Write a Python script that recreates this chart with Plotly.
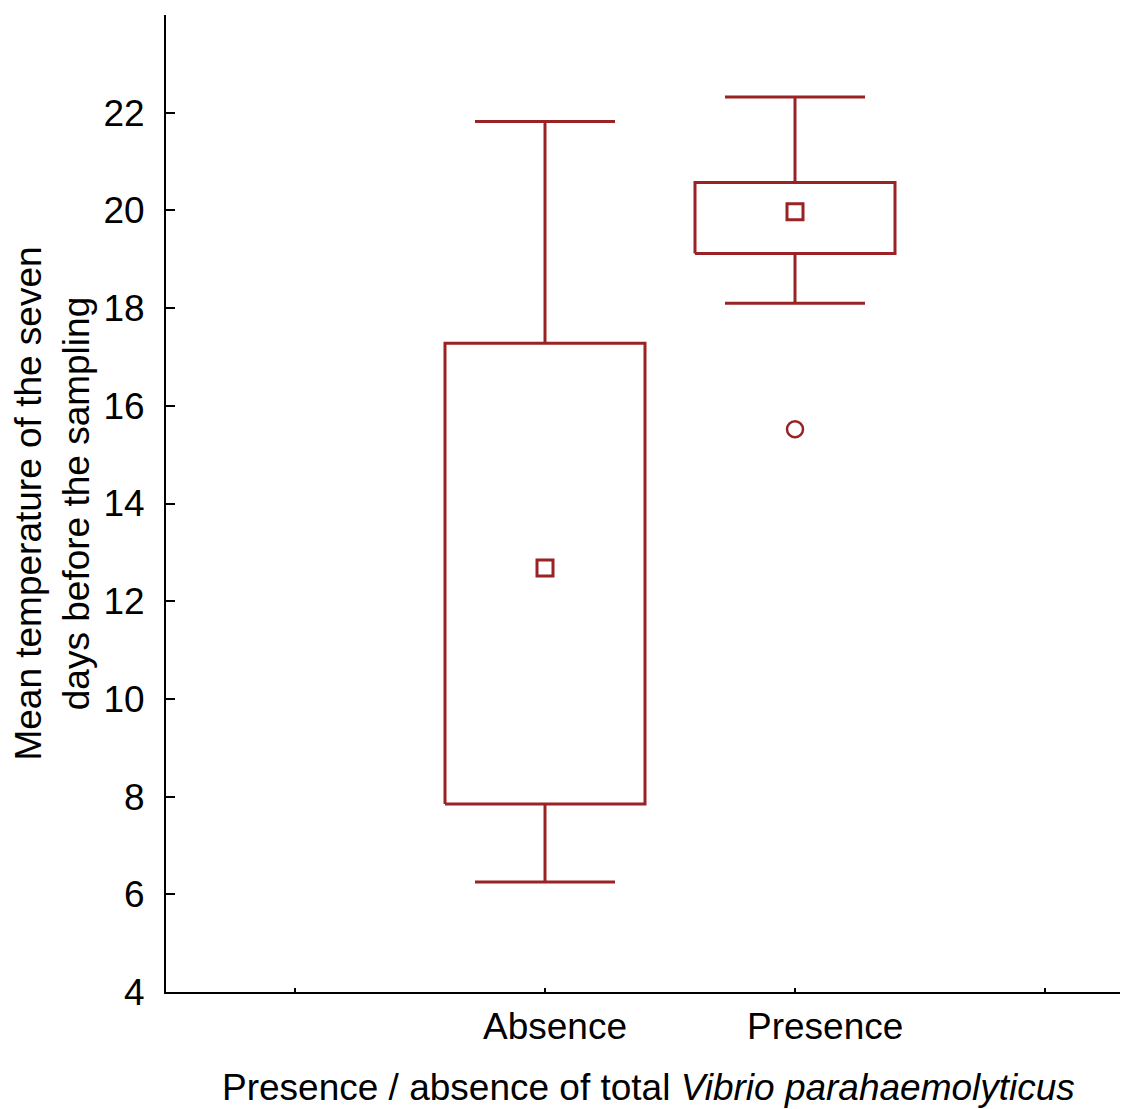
import plotly.graph_objects as go

categories = ["Absence", "Presence"]
positions = [1, 2]
whisker_low = [6.25, 18.1]
q1 = [7.85, 19.12]
median = [12.68, 19.97]
q3 = [17.28, 20.57]
whisker_high = [21.82, 22.32]
outliers_x = [2]
outliers_y = [15.52]
y_ticks = [4, 6, 8, 10, 12, 14, 16, 18, 20, 22]

RED = "#992224"
BOX_HALF = 0.4
CAP_HALF = 0.28
FONT = "Liberation Sans, Arial, sans-serif"
FS = 37

fig = go.Figure()

for i, c in enumerate(categories):
    p = positions[i]
    fig.add_trace(go.Scatter(
        x=[p - BOX_HALF, p + BOX_HALF, p + BOX_HALF, p - BOX_HALF, p - BOX_HALF],
        y=[q1[i], q1[i], q3[i], q3[i], q1[i]],
        mode="lines", line=dict(color=RED, width=3),
        hoverinfo="skip", showlegend=False))
    fig.add_trace(go.Scatter(
        x=[p, p, None, p, p, None,
           p - CAP_HALF, p + CAP_HALF, None, p - CAP_HALF, p + CAP_HALF],
        y=[q3[i], whisker_high[i], None, q1[i], whisker_low[i], None,
           whisker_high[i], whisker_high[i], None, whisker_low[i], whisker_low[i]],
        mode="lines", line=dict(color=RED, width=3),
        hoverinfo="skip", showlegend=False))

fig.add_trace(go.Scatter(
    x=positions, y=median, mode="markers",
    marker=dict(symbol="square-open", size=16, color=RED, line=dict(width=3, color=RED)),
    showlegend=False))

fig.add_trace(go.Scatter(
    x=outliers_x, y=outliers_y, mode="markers",
    marker=dict(symbol="circle-open", size=16, color=RED, line=dict(width=2.5, color=RED)),
    showlegend=False))

label_offsets = [0.04, 0.12]
for i, c in enumerate(categories):
    fig.add_annotation(x=positions[i] + label_offsets[i], y=0, xref="x", yref="paper",
                       yanchor="top", yshift=-12, text=c, showarrow=False,
                       font=dict(family=FONT, size=FS, color="black"))

fig.add_annotation(x=0.5, xref="paper", y=0, yref="paper", yanchor="top", yshift=-73,
                   xshift=1,
                   text="Presence / absence of total <i>Vibrio parahaemolyticus</i>",
                   showarrow=False, font=dict(family=FONT, size=FS, color="black"))

fig.update_layout(
    width=1120, height=1101,
    margin=dict(l=158, r=0, t=7, b=117, autoexpand=False),
    paper_bgcolor="white", plot_bgcolor="white",
    font=dict(family=FONT, size=FS, color="black"),
    showlegend=False,
    xaxis=dict(range=[-0.516, 3.332], tickvals=[0, 1, 2, 3], ticktext=["", "", "", ""],
               ticks="inside", ticklen=4, tickwidth=1.5, tickcolor="black",
               showline=True, linecolor="black", linewidth=2,
               showgrid=False, zeroline=False, fixedrange=True),
    yaxis=dict(range=[4, 24], tickvals=y_ticks, ticks="inside", ticklen=9,
               tickwidth=1.5, tickcolor="black",
               showline=True, linecolor="black", linewidth=2,
               showgrid=False, zeroline=False, ticklabelstandoff=12,
               tickfont=dict(family=FONT, size=FS, color="black"),
               title=dict(text="Mean temperature of the seven<br>days before the sampling",
                          font=dict(family=FONT, size=FS, color="black"), standoff=16)),
)

fig.write_html("out.html")
